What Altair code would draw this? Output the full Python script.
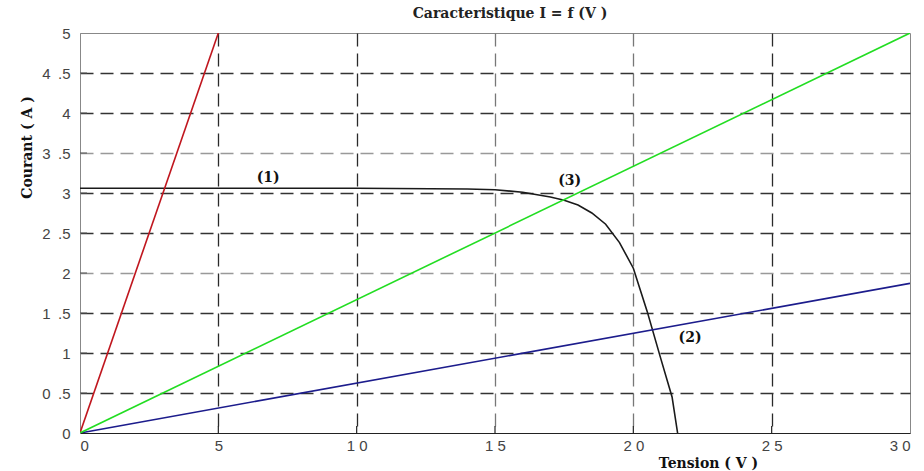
import altair as alt
import pandas as pd

# Characteristic curve (3) I = f(V)
curve_v = [0, 5, 10, 14, 15, 16, 17, 17.5, 18, 18.5, 19, 19.5, 20, 20.5, 21, 21.4, 21.6]
curve_i = [3.06, 3.06, 3.06, 3.05, 3.04, 3.01, 2.95, 2.91, 2.85, 2.75, 2.61, 2.38, 2.06, 1.52, 0.92, 0.45, 0.0]

# Load lines
red_v = [0, 5]
red_i = [0, 5]
green_v = [0, 30]
green_i = [0, 5]
blue_v = [0, 30]
blue_i = [0, 1.87]

label_text = ["(1)", "(2)", "(3)"]
label_v = [6.8, 22.05, 17.7]
label_i = [3.19, 1.19, 3.15]

x_ticks = [0, 5, 10, 15, 20, 25, 30]
y_ticks = [0, 0.5, 1, 1.5, 2, 2.5, 3, 3.5, 4, 4.5, 5]

series = ["curve", "red", "blue", "green"]
colors = ["#1a1a1a", "#c0161e", "#1c1c8c", "#22dd22"]

rows = []
for name, vs, is_ in [("curve", curve_v, curve_i), ("red", red_v, red_i),
                      ("blue", blue_v, blue_i), ("green", green_v, green_i)]:
    for k, (v, i) in enumerate(zip(vs, is_)):
        rows.append({"s": name, "v": v, "i": i, "k": k})
df = pd.DataFrame(rows)

lab_df = pd.DataFrame({"t": label_text, "v": label_v, "i": label_i})
xt_df = pd.DataFrame({"v": x_ticks[1:-1]})
yt_df = pd.DataFrame({"i": y_ticks[1:-1]})

hide_edge_x = {"condition": {"test": "datum.value == 0 || datum.value == 30", "value": 0}, "value": 1}
hide_edge_y = {"condition": {"test": "datum.value == 0 || datum.value == 5", "value": 0}, "value": 1}
grid_col_x = {"condition": {"test": "datum.value == 15 || datum.value == 20", "value": "#777777"}, "value": "#2a2a2a"}
grid_col_y = {"condition": {"test": "datum.value == 3.5 || datum.value == 2", "value": "#999999"}, "value": "#333333"}

xscale = alt.Scale(domain=[0, 30], nice=False)
yscale = alt.Scale(domain=[0, 5], nice=False)

xaxis = alt.Axis(values=x_ticks, tickCount=40, grid=True, gridDash=[13, 7], gridColor=grid_col_x,
                 gridWidth=1.3, gridOpacity=hide_edge_x, ticks=False, labelOverlap=False,
                 labelExpr="join(split(toString(datum.value), ''), ' ')",
                 labelFont="Liberation Sans", labelFontSize=15, labelColor="#444444",
                 labelPadding=5, domainColor="#222222", domainWidth=1.2,
                 title="Tension ( V )", titleFont="DejaVu Serif", titleFontSize=14,
                 titleFontWeight="bold", titleColor="#111111",
                 titleX=628, titleY=30, titleBaseline="middle", titleAlign="center")
yaxis = alt.Axis(values=y_ticks, tickCount=40, grid=True, gridDash=[13, 7], gridColor=grid_col_y,
                 gridWidth=1.3, gridOpacity=hide_edge_y, ticks=False, labelOverlap=False,
                 labelExpr="replace(toString(datum.value), '.', '\u2002.')",
                 labelFont="Liberation Sans", labelFontSize=15, labelColor="#444444",
                 labelPadding=10, domainColor="#888888",
                 title="Courant ( A )", titleFont="DejaVu Serif", titleFontSize=14,
                 titleFontWeight="bold", titleColor="#111111",
                 titleX=-53, titleY=114, titleBaseline="middle", titleAlign="center",
                 titleAngle=-90)

X = lambda f: alt.X(f, scale=xscale, axis=xaxis)
Y = lambda f: alt.Y(f, scale=yscale, axis=yaxis)

lines = alt.Chart(df).mark_line(strokeWidth=1.6, clip=True).encode(
    x=X("v:Q"),
    y=Y("i:Q"),
    color=alt.Color("s:N", scale=alt.Scale(domain=series, range=colors), legend=None),
    detail="s:N",
    order="k:Q",
)

labels = alt.Chart(lab_df).mark_text(font="DejaVu Serif", fontSize=14,
                                     fontWeight="bold", color="#111111").encode(
    x=X("v:Q"), y=Y("i:Q"), text="t:N")

xticks = alt.Chart(xt_df).mark_rule(color="#222222", strokeWidth=1.2).encode(
    x=X("v:Q"), y=alt.value(400), y2=alt.value(393))
yticks = alt.Chart(yt_df).mark_rule(color="#555555", strokeWidth=1).encode(
    y=Y("i:Q"), x=alt.value(0), x2=alt.value(7))

chart = alt.layer(lines, xticks, yticks, labels).properties(
    width=830, height=400,
    title=alt.TitleParams("Caracteristique  I = f (V )", font="DejaVu Serif",
                          fontSize=14, fontWeight="bold", color="#222222",
                          offset=5, dx=15),
    padding={"left": 80, "top": 33, "right": 14, "bottom": 38},
    autosize="none",
).configure_view(stroke="#888888", strokeWidth=1)

chart.save("out.html", embed_options={"renderer": "svg", "actions": False})
